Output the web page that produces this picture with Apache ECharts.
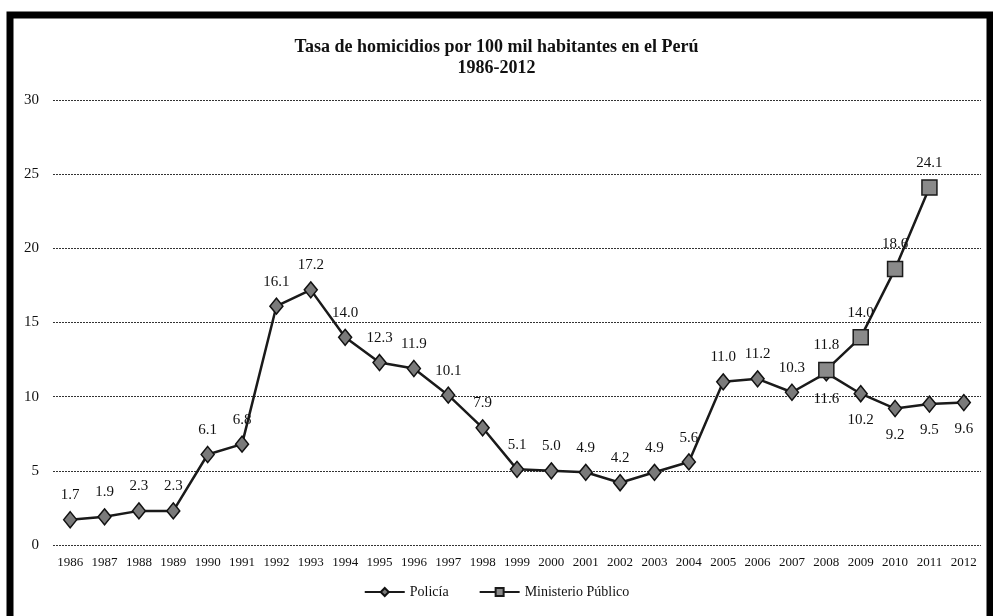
<!DOCTYPE html>
<html>
<head>
<meta charset="utf-8">
<script src="https://cdn.jsdelivr.net/npm/echarts@6/dist/echarts.min.js"></script>
<style>html,body{margin:0;padding:0;background:#fff}#c{width:993px;height:616px}</style>
</head>
<body>
<div id="c"></div>
<script>
var years = ['1986','1987','1988','1989','1990','1991','1992','1993','1994','1995','1996','1997','1998','1999','2000','2001','2002','2003','2004','2005','2006','2007','2008','2009','2010','2011','2012'];
var policia = [1.7,1.9,2.3,2.3,6.1,6.8,16.1,17.2,14.0,12.3,11.9,10.1,7.9,5.1,5.0,4.9,4.2,4.9,5.6,11.0,11.2,10.3,11.6,10.2,9.2,9.5,9.6];
var ministerio = [null,null,null,null,null,null,null,null,null,null,null,null,null,null,null,null,null,null,null,null,null,null,11.8,14.0,18.6,24.1,null];
var policiaLabelBelow = ['2008','2009','2010','2011','2012'];
var yTicks = [0,5,10,15,20,25,30];

var serif = '"Liberation Serif","DejaVu Serif",serif';
var chart = echarts.init(document.getElementById('c'));

var polData = policia.map(function(v,i){
  var below = policiaLabelBelow.indexOf(years[i]) >= 0;
  return {value: v, label: {position: below ? 'bottom' : 'top', distance: below ? 10 : 8}};
});

chart.setOption({
  animation: false,
  backgroundColor: '#fff',
  title: {
    text: 'Tasa de homicidios por 100 mil habitantes en el Perú\n1986-2012',
    left: 'center', top: 32,
    textStyle: {fontFamily: serif, fontSize: 18, fontWeight: 'bold', color: '#111', lineHeight: 21}
  },
  legend: {
    bottom: 12, left: 'center',
    itemWidth: 40, itemHeight: 10, itemGap: 30,
    textStyle: {fontFamily: serif, fontSize: 14, color: '#111'},
    data: ['Policía','Ministerio Público']
  },
  grid: {left: 53, right: 12, top: 100, bottom: 71},
  xAxis: {
    type: 'category', data: years, boundaryGap: true,
    axisLine: {show: false}, axisTick: {show: false},
    axisLabel: {fontFamily: serif, fontSize: 13, color: '#111', margin: 11, interval: 0}
  },
  yAxis: {
    type: 'value', min: yTicks[0], max: yTicks[yTicks.length-1], interval: 5,
    axisLine: {show: false}, axisTick: {show: false},
    axisLabel: {fontFamily: serif, fontSize: 15, color: '#111', margin: 14},
    splitLine: {show: true, lineStyle: {color: '#333', type: [2,1], width: 1}}
  },
  series: [
    {
      name: 'Policía', type: 'line', data: polData,
      symbol: 'diamond', symbolSize: [13,16],
      lineStyle: {color: '#1a1a1a', width: 2.5},
      itemStyle: {color: '#7a7a7a', borderColor: '#111', borderWidth: 1.5},
      label: {show: true, formatter: function(p){return p.value.toFixed(1);}, fontFamily: serif, fontSize: 15, color: '#111'},
      z: 3
    },
    {
      name: 'Ministerio Público', type: 'line', data: ministerio,
      symbol: 'rect', symbolSize: 15, connectNulls: false,
      lineStyle: {color: '#1a1a1a', width: 2.5},
      itemStyle: {color: '#8a8a8a', borderColor: '#1a1a1a', borderWidth: 1.5},
      label: {show: true, position: 'top', distance: 9, formatter: function(p){return p.value == null ? '' : p.value.toFixed(1);}, fontFamily: serif, fontSize: 15, color: '#111'},
      z: 4
    }
  ],
  graphic: [
    {type: 'rect', shape: {x: 10, y: 15, width: 980, height: 700}, style: {fill: 'none', stroke: '#000', lineWidth: 7}, silent: true}
  ]
});
</script>
</body>
</html>
